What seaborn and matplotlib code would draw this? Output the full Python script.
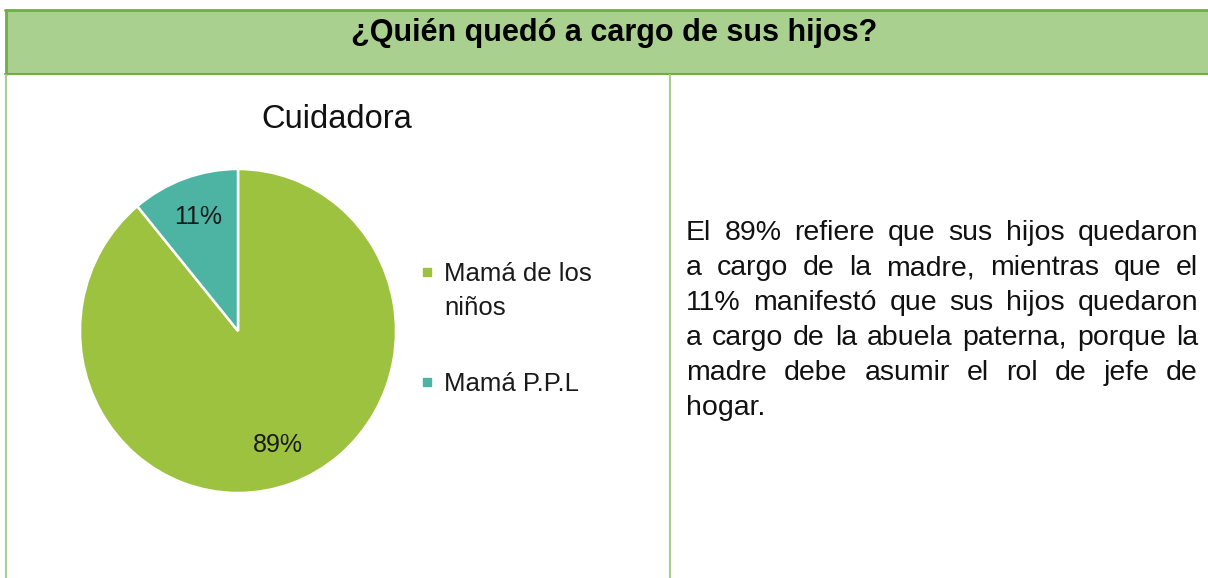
import matplotlib
matplotlib.use("Agg")
import matplotlib.pyplot as plt
import seaborn as sns
from matplotlib.lines import Line2D
from matplotlib.patches import Rectangle

# --- DATOS ---
categorias = ["Mamá de los", "Mamá P.P.L"]
categoria_extra = "niños"  # segunda linha do primeiro rotulo
porcentajes = [89, 11]
colores = ["#9DC23F", "#4DB3A3"]

titulo_tabla = "¿Quién quedó a cargo de sus hijos?"
titulo_grafico = "Cuidadora"
lineas_texto = [
    "El 89% refiere que sus hijos quedaron",
    "a cargo de la madre, mientras que el",
    "11% manifestó que sus hijos quedaron",
    "a cargo de la abuela paterna, porque la",
    "madre debe asumir el rol de jefe de",
    "hogar.",
]

W, H = 1208, 578
FONTE = ["Liberation Sans", "DejaVu Sans"]

sns.set_theme(style="white")
plt.rcParams["font.family"] = FONTE


def fx(px):
    return px / W


def fy(py):
    return 1 - py / H


fig = plt.figure(figsize=(W / 100, H / 100), dpi=100)
fig.patch.set_facecolor("white")

# --- Cabecalho verde da tabela ---
fig.add_artist(Rectangle((fx(6), fy(74)), fx(W) - fx(6), fy(10) - fy(74),
                         transform=fig.transFigure, facecolor="#A9D08E",
                         edgecolor="none", zorder=1))
fig.add_artist(Line2D([fx(5), fx(W)], [fy(10), fy(10)], color="#70AD47", lw=2))
fig.add_artist(Line2D([fx(6), fx(6)], [fy(10), fy(74)], color="#70AD47", lw=2))
fig.add_artist(Line2D([fx(5), fx(W)], [fy(74), fy(74)], color="#70AD47", lw=1.5))
# linhas verticais das celulas
fig.add_artist(Line2D([fx(6), fx(6)], [fy(75), 0], color="#A9D08E", lw=1.5))
fig.add_artist(Line2D([fx(670), fx(670)], [fy(75), 0], color="#A9D08E", lw=1.5))

fig.text(fx(614), fy(41), titulo_tabla, ha="center", va="baseline",
         fontsize=22, fontweight="bold", color="#000000")

# --- Grafico de pizza ---
cx, cy, rx, ry = 238, 331, 158, 162
ax = fig.add_axes([fx(cx - rx), fy(cy + ry), fx(2 * rx), (2 * ry) / H])
wedges, _, autotexts = ax.pie(
    porcentajes, colors=colores, startangle=90, counterclock=False,
    autopct="%1.0f%%", pctdistance=0.75,
    wedgeprops=dict(edgecolor="white", linewidth=1.8),
    textprops=dict(fontsize=18, color="#1a1a1a"),
)
ax.set_xlim(-1, 1)
ax.set_ylim(-1, 1)
ax.set_aspect("auto")
ax.axis("off")

fig.text(fx(337), fy(128), titulo_grafico, ha="center", va="baseline",
         fontsize=23.5, color="#111111")

handles = [Line2D([], [], marker="s", linestyle="", markersize=6,
                  markerfacecolor=c, markeredgecolor=c) for c in colores]
leg = fig.legend(handles, categorias, loc="upper left",
                 bbox_to_anchor=(fx(421), fy(262)), frameon=False,
                 fontsize=18.5, handlelength=0.5, handletextpad=0.4,
                 labelspacing=3.35, borderpad=0, borderaxespad=0)
for t in leg.get_texts():
    t.set_color("#1a1a1a")

# --- Texto justificado da direita ---
fig.canvas.draw()
renderer = fig.canvas.get_renderer()

# segunda linha do rotulo "Mamá de los niños"
bb = leg.get_texts()[0].get_window_extent(renderer)
fig.text(bb.x0 / W, (bb.y0 - 34) / H, categoria_extra, ha="left", va="bottom",
         fontsize=18.5, color="#1a1a1a")

x_esq, x_dir, y0, passo = 686, 1198, 240, 35
for i, linha in enumerate(lineas_texto):
    y = y0 + i * passo
    palavras = linha.split(" ")
    textos = [fig.text(fx(x_esq), fy(y), p, ha="left", va="baseline",
                       fontsize=20.5, color="#111111") for p in palavras]
    larguras = [t.get_window_extent(renderer).width for t in textos]
    if i == len(lineas_texto) - 1 or len(palavras) == 1:
        espaco = renderer.get_text_width_height_descent(
            " ", textos[0].get_fontproperties(), ismath=False)[0]
    else:
        espaco = (x_dir - x_esq - sum(larguras)) / (len(palavras) - 1)
    x = x_esq
    for t, w in zip(textos, larguras):
        t.set_position((fx(x), fy(y)))
        x += w + espaco

fig.savefig("out.png", dpi=100, facecolor="white")
